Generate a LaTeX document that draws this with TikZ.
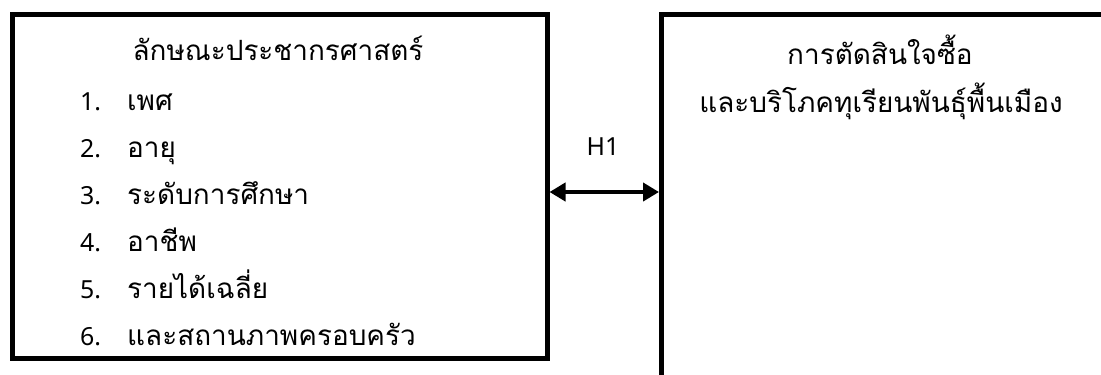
\documentclass[tikz,border=0pt]{standalone}
\usepackage{fontspec}
\newfontfamily\thaifont[Script=Thai]{Loma}
\newfontfamily\latinfont{Noto Sans}
\usetikzlibrary{arrows.meta}
\tikzset{
  frame/.style={draw=black, line width=4.5bp, inner sep=0pt, anchor=north west},
  txt/.style={inner sep=0pt, anchor=base},
  txtl/.style={inner sep=0pt, anchor=base west},
  num/.style={inner sep=0pt, anchor=base west, font=\latinfont\fontsize{25}{30}\selectfont},
  rel/.style={line width=4.5bp, {Triangle[length=16bp,width=18bp]}-{Triangle[length=16bp,width=18bp]}},
  hbox/.style={fill=white, inner sep=0pt, minimum width=80bp, minimum height=61bp},
  hlab/.style={inner sep=0pt, anchor=base, font=\latinfont\fontsize{25}{30}\selectfont}
}
\begin{document}
\begin{tikzpicture}[x=1bp,y=-1bp, font=\thaifont\fontsize{28}{34}\selectfont]
\useasboundingbox[fill=white] (0,0) rectangle (1101,374);
\node[frame, minimum width=535bp, minimum height=344bp] (L) at (10,12) {};
\node[frame, minimum width=500bp, minimum height=420bp] (R) at (659,12) {};
\node[hbox] (h) at (603,142) {};
\node[hlab] (hl) at (603,155) {H1};
\draw[rel] ([yshift=-180bp]L.north east) -- ([yshift=-180bp]R.north west);
\node[txt] (t1) at (278,60) {ลักษณะประชากรศาสตร์};
\node[num] (n1) at (80,110) {1.};
\node[txtl] (i1) at (127,110) {เพศ};
\node[num] (n2) at (80,157) {2.};
\node[txtl] (i2) at (127,157) {อายุ};
\node[num] (n3) at (80,204) {3.};
\node[txtl] (i3) at (127,204) {ระดับการศึกษา};
\node[num] (n4) at (80,251) {4.};
\node[txtl] (i4) at (127,251) {อาชีพ};
\node[num] (n5) at (80,298) {5.};
\node[txtl] (i5) at (127,298) {รายได้เฉลี่ย};
\node[num] (n6) at (80,345) {6.};
\node[txtl] (i6) at (127,345) {และสถานภาพครอบครัว};
\node[txt] (r1) at (880,64) {การตัดสินใจซื้อ};
\node[txt] (r2) at (881,112) {และบริโภคทุเรียนพันธุ์พื้นเมือง};
\end{tikzpicture}
\end{document}
